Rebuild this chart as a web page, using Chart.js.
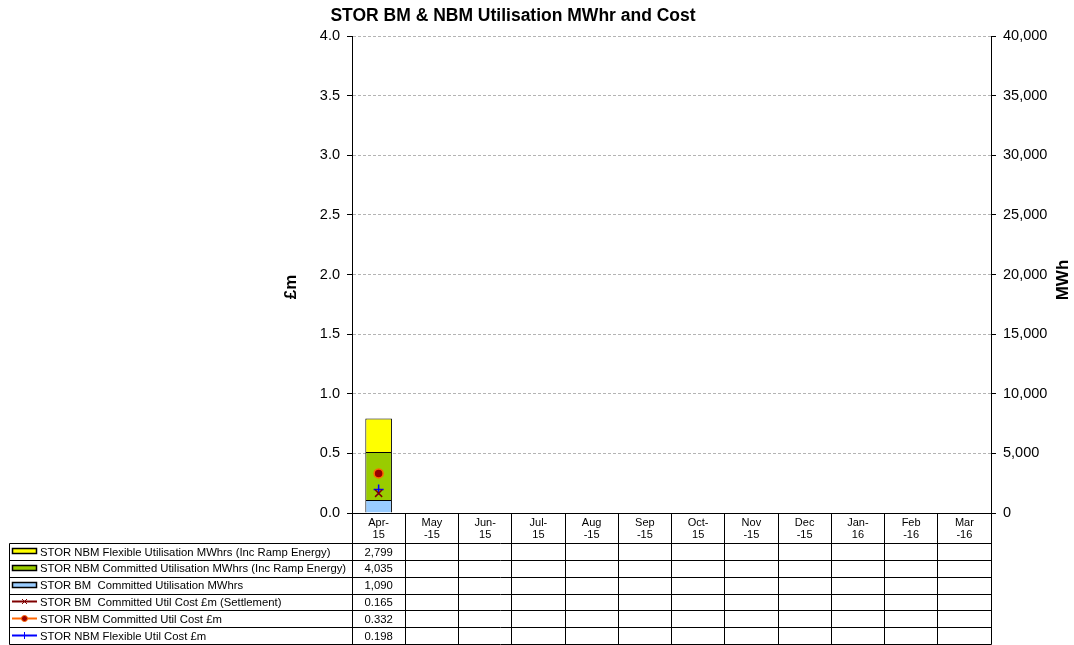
<!DOCTYPE html>
<html><head><meta charset="utf-8">
<script src="https://cdn.jsdelivr.net/npm/chart.js@4/dist/chart.umd.min.js"></script>
<style>html,body{margin:0;padding:0;background:#fff}#wrap{width:1074px;height:645px}</style>
</head><body><div id="wrap"><canvas id="c" width="1074" height="645"></canvas></div>
<script>
// ---- data ----
const categories = ['Apr-15','May-15','Jun-15','Jul-15','Aug-15','Sep-15','Oct-15','Nov-15','Dec-15','Jan-16','Feb-16','Mar-16'];
const tickLabels = [['Apr-','15'],['May','-15'],['Jun-','15'],['Jul-','15'],['Aug','-15'],['Sep','-15'],['Oct-','15'],['Nov','-15'],['Dec','-15'],['Jan-','16'],['Feb','-16'],['Mar','-16']];
const nbmFlexMWh   = [2799, null, null, null, null, null, null, null, null, null, null, null];
const nbmCommMWh   = [4035, null, null, null, null, null, null, null, null, null, null, null];
const bmCommMWh    = [1090, null, null, null, null, null, null, null, null, null, null, null];
const bmCommCost   = [0.165, null, null, null, null, null, null, null, null, null, null, null];
const nbmCommCost  = [0.332, null, null, null, null, null, null, null, null, null, null, null];
const nbmFlexCost  = [0.198, null, null, null, null, null, null, null, null, null, null, null];
const leftTicks  = [0, 0.5, 1.0, 1.5, 2.0, 2.5, 3.0, 3.5, 4.0];
const rightTicks = [0, 5000, 10000, 15000, 20000, 25000, 30000, 35000, 40000];
const titleText = 'STOR BM & NBM Utilisation MWhr and Cost';

const FONT = 'Arial, "Liberation Sans", sans-serif';

const datasets = [
  {type:'bar', label:'STOR BM  Committed Utilisation MWhrs', data:bmCommMWh, yAxisID:'y2', backgroundColor:'#99CCFF', borderColor:'#000', borderWidth:1, order:2, kind:'bar', fmt:'mwh'},
  {type:'bar', label:'STOR NBM Committed Utilisation MWhrs (Inc Ramp Energy)', data:nbmCommMWh, yAxisID:'y2', backgroundColor:'#99CC00', borderColor:'#000', borderWidth:1, order:2, kind:'bar', fmt:'mwh'},
  {type:'bar', label:'STOR NBM Flexible Utilisation MWhrs (Inc Ramp Energy)', data:nbmFlexMWh, yAxisID:'y2', backgroundColor:'#FFFF00', borderColor:'#000', borderWidth:1, order:2, kind:'bar', fmt:'mwh'},
  {type:'line', label:'STOR BM  Committed Util Cost £m (Settlement)', data:bmCommCost, yAxisID:'y', borderColor:'#800000', backgroundColor:'#800000', pointStyle:'crossRot', pointRadius:5, pointBorderWidth:1.5, order:0, fmt:'cost'},
  {type:'line', label:'STOR NBM Committed Util Cost £m', data:nbmCommCost, yAxisID:'y', borderColor:'#FF6600', backgroundColor:'#990000', pointBorderColor:'#FF6600', pointStyle:'circle', pointRadius:4.5, pointBorderWidth:1.5, order:0, fmt:'cost'},
  {type:'line', label:'STOR NBM Flexible Util Cost £m', data:nbmFlexCost, yAxisID:'y', borderColor:'#0000FF', backgroundColor:'#0000FF', pointStyle:'cross', pointRadius:5, pointBorderWidth:1.5, order:0, fmt:'cost'}
];
const tableOrder = [2, 1, 0, 3, 4, 5];

function fmtVal(ds, v) {
  if (v === null || v === undefined) return '';
  return ds.fmt === 'mwh' ? v.toLocaleString('en-GB') : v.toFixed(3);
}

const tablePlugin = {
  id: 'tablePlugin',
  afterDraw(chart) {
    const ctx = chart.ctx, a = chart.chartArea;
    const L = a.left, R = a.right, B = a.bottom;
    const n = categories.length, colW = (R - L) / n;
    const tableLeft = 9.5, headBottom = 543.5, tableBottom = 644.5;
    const rowH = (tableBottom - headBottom) / 6;
    const px = v => Math.round(v - 0.5) + 0.5;
    ctx.save();
    // title
    ctx.fillStyle = '#000';
    ctx.font = 'bold 17.5px ' + FONT;
    ctx.textAlign = 'center'; ctx.textBaseline = 'middle';
    ctx.fillText(titleText, 513, 16);
    // axis titles
    ctx.font = 'bold 17px ' + FONT;
    ctx.save(); ctx.translate(291, 287); ctx.rotate(-Math.PI/2);
    ctx.fillText('£m', 0, 0); ctx.restore();
    ctx.save(); ctx.translate(1063, 280); ctx.rotate(-Math.PI/2);
    ctx.fillText('MWh', 0, 0); ctx.restore();

    ctx.strokeStyle = '#000'; ctx.lineWidth = 1;
    ctx.beginPath();
    for (let i = 0; i <= n; i++) {
      const x = px(L + i * colW);
      ctx.moveTo(x, B); ctx.lineTo(x, tableBottom);
    }
    ctx.moveTo(tableLeft, headBottom); ctx.lineTo(tableLeft, tableBottom);
    for (let r = 0; r <= 6; r++) {
      const y = px(headBottom + r * rowH);
      ctx.moveTo(tableLeft, y); ctx.lineTo(px(R), y);
    }
    ctx.stroke();

    // header labels
    ctx.font = '11px ' + FONT;
    ctx.textAlign = 'center'; ctx.textBaseline = 'middle';
    for (let i = 0; i < n; i++) {
      const cx = L + (i + 0.5) * colW;
      ctx.fillText(tickLabels[i][0], cx, 523);
      ctx.fillText(tickLabels[i][1], cx, 535);
    }
    // rows
    tableOrder.forEach((di, r) => {
      const ds = datasets[di];
      const cy = headBottom + (r + 0.5) * rowH;
      const ry = Math.round(cy);
      if (ds.kind === 'bar') {
        ctx.fillStyle = ds.backgroundColor;
        ctx.fillRect(12.5, ry - 3.5, 24, 5);
        ctx.strokeStyle = '#000'; ctx.lineWidth = 1.5;
        ctx.strokeRect(12.5, ry - 3.5, 24, 5);
      } else {
        ctx.strokeStyle = ds.borderColor; ctx.lineWidth = 2;
        ctx.beginPath(); ctx.moveTo(12, ry - 0.5); ctx.lineTo(37, ry - 0.5); ctx.stroke();
        ctx.lineWidth = 1;
        ctx.fillStyle = ds.backgroundColor;
        ctx.strokeStyle = ds.pointBorderColor || ds.borderColor;
        ctx.beginPath();
        if (ds.pointStyle === 'circle') { ctx.arc(24.5, ry - 0.5, 3, 0, Math.PI*2); ctx.fill(); ctx.stroke(); }
        else if (ds.pointStyle === 'crossRot') { ctx.moveTo(22, ry-3); ctx.lineTo(27, ry+2); ctx.moveTo(27, ry-3); ctx.lineTo(22, ry+2); ctx.stroke(); }
        else { ctx.moveTo(24.5, ry-4); ctx.lineTo(24.5, ry+3); ctx.stroke(); }
      }
      ctx.fillStyle = '#000';
      ctx.font = '11.3px ' + FONT;
      ctx.textAlign = 'left';
      ctx.fillText(ds.label, 40, cy + 0.5);
      ctx.textAlign = 'center';
      for (let i = 0; i < n; i++) {
        const t = fmtVal(ds, ds.data[i]);
        if (t) ctx.fillText(t, L + (i + 0.5) * colW, cy + 0.5);
      }
    });
    ctx.restore();
  }
};

new Chart(document.getElementById('c'), {
  data: { labels: categories, datasets: datasets },
  options: {
    responsive: false,
    animation: false,
    devicePixelRatio: 1,
    layout: { padding: { top: 36, left: 0, right: 0, bottom: 0 } },
    plugins: { legend: { display: false }, title: { display: false }, tooltip: { enabled: false } },
    datasets: { bar: { categoryPercentage: 1.0, barPercentage: 0.5 } },
    scales: {
      x: {
        stacked: true,
        ticks: { display: false },
        grid: { display: false },
        border: { display: true, color: '#000', width: 1 },
        afterFit: s => { s.height = 132; }
      },
      y: {
        position: 'left', stacked: false, min: 0, max: 4,
        afterBuildTicks: s => { s.ticks = leftTicks.map(v => ({ value: v })); },
        ticks: { color: '#000', font: { family: FONT, size: 14.5 }, padding: 7, callback: v => Number(v).toFixed(1) },
        grid: { color: c => (c.tick && c.tick.value === 0) ? 'rgba(0,0,0,0)' : '#b4b4b4', tickColor: '#000', tickLength: 5, tickBorderDash: [], drawTicks: true },
        border: { display: true, color: '#000', width: 1, dash: [3, 2] },
        afterFit: s => { s.width = 352; }
      },
      y2: {
        position: 'right', stacked: true, min: 0, max: 40000,
        afterBuildTicks: s => { s.ticks = rightTicks.map(v => ({ value: v })); },
        ticks: { color: '#000', font: { family: FONT, size: 14.5 }, padding: 7, callback: v => Number(v).toLocaleString('en-GB') },
        grid: { drawOnChartArea: false, tickColor: '#000', tickLength: 5 },
        border: { display: true, color: '#000', width: 1 },
        afterFit: s => { s.width = 83; }
      }
    }
  },
  plugins: [tablePlugin]
});
</script></body></html>
